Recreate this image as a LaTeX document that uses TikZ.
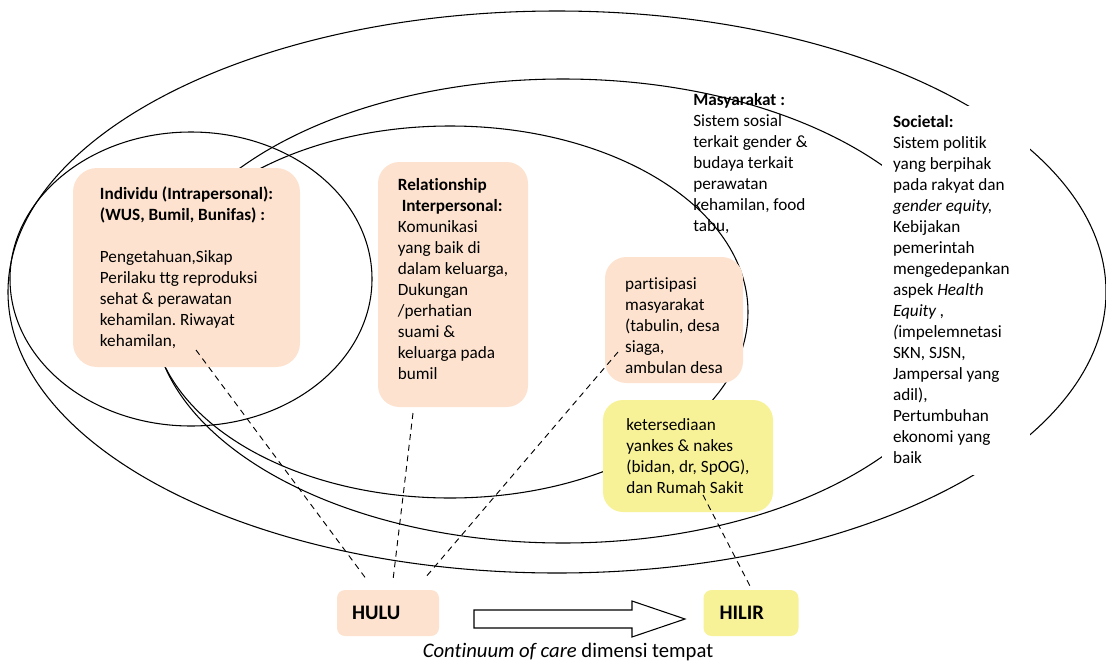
\documentclass[tikz,border=0pt]{standalone}
\usepackage{fontspec}
\setmainfont{Carlito}[Ligatures={NoCommon}]
\usetikzlibrary{positioning,calc}
\definecolor{peach}{HTML}{FDE3CF}
\definecolor{lemon}{HTML}{F7F298}
\frenchspacing

\begin{document}
\begin{tikzpicture}[x=0.75pt,y=-0.75pt]
\tikzset{
    txt/.style={font=\fontsize{12.9pt}{15.75pt}\selectfont, align=flush left, inner sep=0pt},
    peachbox/.style={txt, fill=peach, rounded corners=16pt},
    lemonbox/.style={txt, fill=lemon, rounded corners=15pt},
    ring/.style={line width=0.8pt},
    guide/.style={line width=0.7pt, dash pattern=on 4.5pt off 3.5pt},
    endbox/.style={font=\fontsize{15.5pt}{18pt}\selectfont\bfseries, align=flush left, rounded corners=6pt, minimum height=34.5pt, inner ysep=0pt}
}
\useasboundingbox (0,0) rectangle (1106,664);

% levels of the model
\draw[ring] (557,292) ellipse [x radius=549, y radius=281];
\draw[ring] (563,311) ellipse [x radius=410, y radius=232];
\draw[ring] (450,312) ellipse [x radius=298, y radius=186];
\draw[ring] (191,279) ellipse [x radius=181, y radius=147];

\node[txt, anchor=north west] (masyarakat) at (693,93) {\textbf{Masyarakat :}\\Sistem sosial\\terkait gender \&\\budaya terkait\\perawatan\\kehamilan, food\\tabu,};

\node[txt, fill=white, text width=94.5pt, inner xsep=8.25pt, minimum height=276.75pt] (societal) at (956,290) {\textbf{Societal:}\\Sistem politik\\yang berpihak\\pada rakyat dan\\\textit{gender equity,}\\Kebijakan\\pemerintah\\mengedepankan\\aspek \textit{Health}\\\textit{Equity ,}\\\textit{(}impelemnetasi\\SKN, SJSN,\\Jampersal yang\\adil),\\Pertumbuhan\\ekonomi yang\\baik};

\node[peachbox, rounded corners=18pt, minimum width=170.25pt, minimum height=149.25pt] (individu) at (186.5,267.5) {\textbf{Individu (Intrapersonal):}\\\textbf{(WUS, Bumil, Bunifas) :}\\[15.75pt]Pengetahuan,Sikap\\Perilaku ttg reproduksi\\sehat \& perawatan\\kehamilan. Riwayat\\kehamilan,};

\node[peachbox, minimum width=112.5pt, minimum height=183.75pt] (relasi) at (453,284.5) {\textbf{Relationship}\\\textbf{\ Interpersonal:}\\Komunikasi\\yang baik di\\dalam keluarga,\\Dukungan\\/perhatian\\suami \&\\keluarga pada\\bumil\\[-7.5pt]\mbox{}};

\node[peachbox, minimum width=103.5pt, minimum height=94.5pt] (partisipasi) at (674,320) {\mbox{}\\[1.25pt]partisipasi\\masyarakat\\(tabulin, desa\\siaga,\\ambulan desa};

\node[lemonbox, minimum width=127.5pt, minimum height=84pt] (yankes) at (688,456) {ketersediaan\\yankes \& nakes\\(bidan, dr, SpOG),\\dan Rumah Sakit};

% hulu - hilir
\node[endbox, fill=peach, text width=54pt, inner xsep=11.25pt] (hulu) at (388,613) {HULU};
\node[endbox, fill=lemon, text width=47.25pt, inner xsep=12pt, right=198pt of hulu] (hilir) {HILIR};

\draw[line width=0.8pt] (474,610) -- (632,610) -- (632,601) -- (685,619) -- (632,637) -- (632,628) -- (474,628) -- cycle;

\node[font=\fontsize{15.5pt}{18pt}\selectfont, inner sep=0pt] (caption) at (568,652) {\textit{Continuum of care} dimensi tempat};

\coordinate (indivTail) at (196,350);
\coordinate (indivHead) at (367,580);
\coordinate (relasiTail) at (413,413);
\coordinate (relasiHead) at (393,580);
\coordinate (partTail) at (618,352);
\coordinate (partHead) at (425,578);
\coordinate (yankesTail) at (703,495);
\coordinate (yankesHead) at (751,588);

\draw[guide] (indivTail) -- (indivHead);
\draw[guide] (relasiTail) -- (relasiHead);
\draw[guide] (partTail) -- (partHead);
\draw[guide] (yankesTail) -- (yankesHead);
\end{tikzpicture}
\end{document}
